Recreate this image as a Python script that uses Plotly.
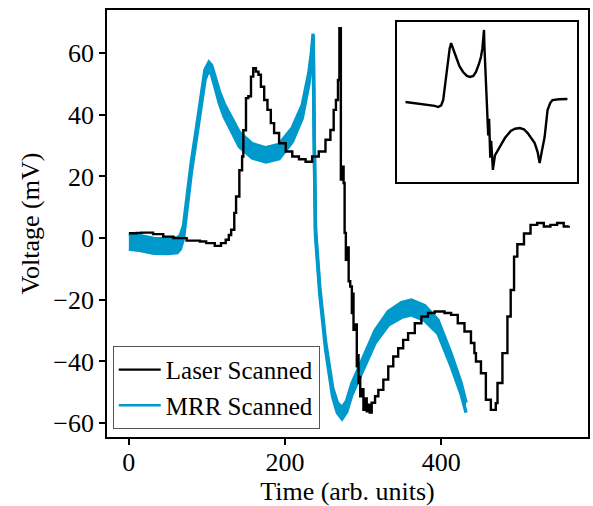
import plotly.graph_objects as go

# ---------------- data ----------------
laser_t = [0, 10, 16, 31, 44, 57, 74, 91, 99, 110, 118, 124, 128, 131, 135, 137.3, 141.5, 145,
           146.6, 150, 153, 156.4, 159.3, 162.7, 166, 169.1, 173.3, 177.5, 181.8, 186, 192.4,
           200.9, 209.3, 217.8, 226.3, 234.7, 243.2, 251.8, 258.1, 262.3, 265.2, 267.8, 269.6,
           270.8, 271.5, 273.7, 275, 276.3, 277.9, 279.5, 281.5, 283.5, 285.6, 286.5, 287.7,
           290, 291.9, 293, 294.1, 295.5, 296.3, 298, 300.4, 302.5, 304.6, 306.8, 308.5, 311,
           315.3, 319.5, 325.9, 332.2, 338.6, 344.9, 351.3, 357.6, 366.2, 374.6, 383.1, 391.6,
           404.3, 412.7, 421.2, 429.8, 438.1, 442.5, 444.5, 450.9, 457.2, 463.6, 469.9, 472.1,
           478.4, 484.8, 489, 493.3, 497.5, 506, 514.4, 522.9, 531.4, 539.9, 548.4, 556.9, 563.3]
laser_v = [1.6, 1.7, 1.8, 1.3, 0.5, 0, -0.8, -1.1, -1.6, -2.5, -1.6, -0.5, 1, 2.7, 8.2, 13.5, 22,
           26.5, 35, 45.4, 46, 52.4, 55.1, 54, 53, 49.1, 44.8, 41.6, 37.3, 34.1, 30.8, 28.1, 26.5,
           25.6, 24.8, 26.5, 28.1, 31.9, 35.1, 41.6, 44.8, 51.3, 68.1, 68, 19, 23.2, 17.9, 1.7, -7,
           -3, -14, -15.7, -24.3, -18, -29.7, -28, -41.6, -38, -47, -45, -51.3, -49, -55.7, -52,
           -56.2, -54, -56.6, -53.4, -51.3, -49.2, -45.9, -41.6, -38.4, -35.7, -33, -30.8, -27.6,
           -25.4, -24.3, -23.8, -24.3, -24.9, -27.6, -30.3, -34, -37.3, -40, -43.8, -52.4, -55.7,
           -53.5, -47, -37.3, -25.4, -16.8, -6, -2, 1.5, 4.3, 4.9, 3.8, 4.3, 4.9, 3.8, 4]

mrr_t = [0, 15, 32, 50, 62, 66, 70, 73.7, 80, 86.5, 92.8, 97.5, 102.5, 106, 110, 116, 122, 128.8,
         141.5, 158, 175.5, 192.4, 209.3, 222, 230.5, 234, 236, 237.5, 239, 244.5, 252, 261, 267,
         273, 279, 285.6, 298.3, 315.3, 332.2, 349.1, 361.9, 378.9, 395.8, 412.7, 425.4, 431.8]
mrr_mid = [-1.1, -1.6, -2.5, -2.6, -2.3, -1.3, 2, 10, 23, 34, 46, 53, 55.8, 54.5, 51, 45.6, 41.5,
           38, 32, 28.3, 27, 28.1, 33.5, 41, 51.8, 59, 65.5, 30, 2, -17, -35, -50, -55, -56.8,
           -54.5, -49, -41.7, -32, -26, -23.3, -22.5, -24.3, -28.7, -39.5, -48.7, -55]
mrr_noise = [2.4, 2.4, 2.4, 2.4, 2.4, 2.2, 2.0, 1.8, 1.6, 1.6, 1.6, 1.6, 1.2, 1.5, 1.7, 1.9, 2.1,
             2.2, 2.3, 2.3, 2.3, 2.3, 2.3, 2.1, 1.8, 1.5, 0.8, 1.0, 1.0, 1.0, 1.2, 1.4, 1.6, 1.8,
             1.8, 1.8, 1.8, 2.0, 2.2, 2.4, 2.4, 2.4, 2.2, 2.0, 1.8, 1.6]

inset_t = [0, 54, 100, 112, 122, 129, 140, 146, 151, 156, 163, 173, 185, 197, 210, 221, 232, 241,
           251, 258, 263, 268.6, 270, 272, 275, 278.8, 283, 286, 290, 293, 299, 306, 316, 328,
           340, 360, 375, 391, 405, 418, 430, 442, 452, 459, 466, 476, 486, 495, 503, 525, 554]
inset_v = [0, -1.8, -3.5, -4.5, -3, 1.8, 25, 37.8, 48, 53, 47, 40.5, 32, 27, 23.5, 22.5, 23.5,
           27, 34, 40.5, 48, 64.8, 50, 37.8, 15, -7.2, -30, -15, -50, -35, -61, -48, -43, -37,
           -32.4, -26, -24, -23.4, -24.5, -27.9, -32, -36.9, -45, -54.9, -45, -31.5, -7.2, -1,
           1.8, 2.5, 2.7]

x_ticks = [0, 200, 400]
y_ticks = [-60, -40, -20, 0, 20, 40, 60]

BLUE = "#0099CC"
FONT = "Liberation Serif"

mrr_high = [m + n for m, n in zip(mrr_mid, mrr_noise)]
mrr_low = [m - n for m, n in zip(mrr_mid, mrr_noise)]

fig = go.Figure()

# MRR noisy band (drawn below the laser trace)
fig.add_trace(go.Scatter(x=mrr_t, y=mrr_low, mode="lines", line=dict(color=BLUE, width=3.5),
                         showlegend=False, hoverinfo="skip"))
fig.add_trace(go.Scatter(x=mrr_t, y=mrr_high, mode="lines", line=dict(color=BLUE, width=3.5),
                         fill="tonexty", fillcolor=BLUE, showlegend=False, hoverinfo="skip"))

fig.add_trace(go.Scatter(x=laser_t, y=laser_v, mode="lines", name="Laser Scanned",
                         line=dict(color="black", width=2.4, shape="hv")))
# legend entry for MRR
fig.add_trace(go.Scatter(x=[None], y=[None], mode="lines", name="MRR Scanned",
                         line=dict(color=BLUE, width=2.5)))

# inset
fig.add_trace(go.Scatter(x=inset_t, y=inset_v, mode="lines", xaxis="x2", yaxis="y2",
                         line=dict(color="black", width=2.4), showlegend=False))

axis_common = dict(showline=True, linecolor="black", linewidth=1.6, mirror=True,
                   showgrid=False, zeroline=False, ticks="outside", ticklen=6, tickwidth=1.6,
                   tickcolor="black", tickfont=dict(family=FONT, size=26, color="black"))

fig.update_layout(
    width=593, height=506, autosize=False,
    margin=dict(l=107, r=3, t=10, b=69),
    paper_bgcolor="white", plot_bgcolor="white",
    font=dict(family=FONT, color="black"),
    xaxis=dict(range=[-28, 588], tickvals=x_ticks, ticklabelstandoff=-5,
               title=dict(text="Time (arb. units)", font=dict(family=FONT, size=26), standoff=4),
               **axis_common),
    yaxis=dict(range=[-64.5, 74], tickvals=y_ticks,
               title=dict(text="Voltage (mV)", font=dict(family=FONT, size=26), standoff=6),
               **axis_common),
    xaxis2=dict(domain=[0.602, 0.978], anchor="y2", range=[-30.6, 588.2], showticklabels=False,
                ticks="", showline=True, linecolor="black", linewidth=1.8, mirror=True,
                showgrid=False, zeroline=False),
    yaxis2=dict(domain=[0.597, 0.972], anchor="x2", range=[-72, 72], showticklabels=False,
                ticks="", showline=True, linecolor="black", linewidth=1.8, mirror=True,
                showgrid=False, zeroline=False),
    legend=dict(x=0.012, y=0.019, xanchor="left", yanchor="bottom", traceorder="normal",
                bgcolor="rgba(255,255,255,0.85)", bordercolor="#555555", borderwidth=1,
                font=dict(family=FONT, size=25, color="black"), itemwidth=42,
                tracegroupgap=0),
)

fig.write_html("out.html", config={"displayModeBar": False},
               post_script="document.body.style.margin='0';")
